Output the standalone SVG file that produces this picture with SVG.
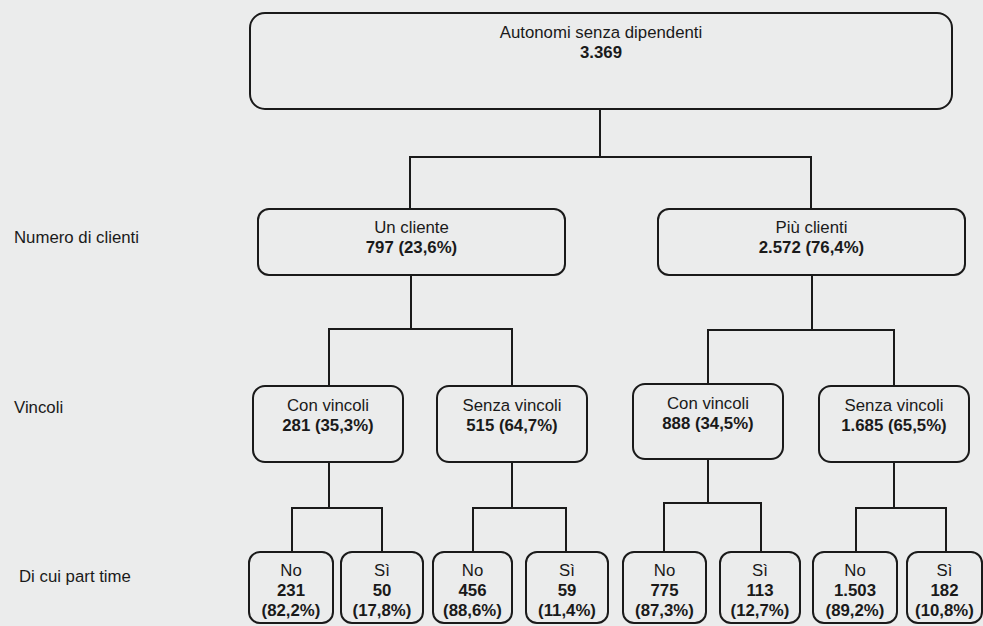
<svg xmlns="http://www.w3.org/2000/svg" width="983" height="626" viewBox="0 0 983 626">
<style>
.box{fill:none;stroke:#1a1a1a;stroke-width:2}
.ln{fill:none;stroke:#1a1a1a;stroke-width:2}
text{font-family:"Liberation Sans",Arial,sans-serif;font-size:16.8px;fill:#1a1a1a}
.c{text-anchor:middle}
.b{font-weight:bold}
</style>
<rect width="983" height="626" fill="#ebecec"/>
<g id="labels">
<text x="14" y="243">Numero di clienti</text>
<text x="14" y="413">Vincoli</text>
<text x="19" y="582">Di cui part time</text>
</g>
<g id="connectors">
<path class="ln" d="M600 109V157M410 209V157H811V209"/>
<path class="ln" d="M411 275V329M329 386V329H512V386"/>
<path class="ln" d="M812 275V330M708 384V330H894V386"/>
<path class="ln" d="M329 462V508M292 552V508H382V552"/>
<path class="ln" d="M512 462V508M473 552V508H566V552"/>
<path class="ln" d="M708 459V503M664 552V503H761V552"/>
<path class="ln" d="M894 462V508M856 552V508H946V552"/>
</g>
<g id="root">
<rect class="box" x="250" y="13" width="702" height="96" rx="15"/>
<text class="c" x="601" y="38">Autonomi senza dipendenti</text>
<text class="c b" x="601" y="58">3.369</text>
</g>
<g id="un-cliente">
<rect class="box" x="258" y="209" width="307" height="66" rx="11"/>
<text class="c" x="411.5" y="233">Un cliente</text>
<text class="c b" x="411.5" y="253">797 (23,6%)</text>
</g>
<g id="piu-clienti">
<rect class="box" x="658" y="209" width="307" height="66" rx="11"/>
<text class="c" x="811.5" y="233">Più clienti</text>
<text class="c b" x="811.5" y="253">2.572 (76,4%)</text>
</g>
<g id="con-vincoli-1">
<rect class="box" x="253" y="386" width="150" height="76" rx="12"/>
<text class="c" x="328" y="411">Con vincoli</text>
<text class="c b" x="328" y="431">281 (35,3%)</text>
</g>
<g id="senza-vincoli-1">
<rect class="box" x="437" y="386" width="150" height="76" rx="12"/>
<text class="c" x="512" y="411">Senza vincoli</text>
<text class="c b" x="512" y="431">515 (64,7%)</text>
</g>
<g id="con-vincoli-2">
<rect class="box" x="633" y="384" width="150" height="75" rx="12"/>
<text class="c" x="708" y="409">Con vincoli</text>
<text class="c b" x="708" y="429">888 (34,5%)</text>
</g>
<g id="senza-vincoli-2">
<rect class="box" x="819" y="386" width="150" height="76" rx="12"/>
<text class="c" x="894" y="411">Senza vincoli</text>
<text class="c b" x="894" y="431">1.685 (65,5%)</text>
</g>
<g id="no-1">
<rect class="box" x="249" y="552" width="84" height="71" rx="11"/>
<text class="c" x="291" y="576">No</text>
<text class="c b" x="291" y="596">231</text>
<text class="c b" x="291" y="616">(82,2%)</text>
</g>
<g id="si-1">
<rect class="box" x="341" y="552" width="82" height="71" rx="11"/>
<text class="c" x="382" y="576">Sì</text>
<text class="c b" x="382" y="596">50</text>
<text class="c b" x="382" y="616">(17,8%)</text>
</g>
<g id="no-2">
<rect class="box" x="433" y="552" width="79" height="71" rx="11"/>
<text class="c" x="472.5" y="576">No</text>
<text class="c b" x="472.5" y="596">456</text>
<text class="c b" x="472.5" y="616">(88,6%)</text>
</g>
<g id="si-2">
<rect class="box" x="526" y="552" width="82" height="71" rx="11"/>
<text class="c" x="567" y="576">Sì</text>
<text class="c b" x="567" y="596">59</text>
<text class="c b" x="567" y="616">(11,4%)</text>
</g>
<g id="no-3">
<rect class="box" x="623" y="552" width="83" height="71" rx="11"/>
<text class="c" x="664.5" y="576">No</text>
<text class="c b" x="664.5" y="596">775</text>
<text class="c b" x="664.5" y="616">(87,3%)</text>
</g>
<g id="si-3">
<rect class="box" x="720" y="552" width="80" height="71" rx="11"/>
<text class="c" x="760" y="576">Sì</text>
<text class="c b" x="760" y="596">113</text>
<text class="c b" x="760" y="616">(12,7%)</text>
</g>
<g id="no-4">
<rect class="box" x="813" y="552" width="84" height="71" rx="11"/>
<text class="c" x="855" y="576">No</text>
<text class="c b" x="855" y="596">1.503</text>
<text class="c b" x="855" y="616">(89,2%)</text>
</g>
<g id="si-4">
<rect class="box" x="907" y="552" width="75" height="71" rx="11"/>
<text class="c" x="944.5" y="576">Sì</text>
<text class="c b" x="944.5" y="596">182</text>
<text class="c b" x="944.5" y="616">(10,8%)</text>
</g>
</svg>
